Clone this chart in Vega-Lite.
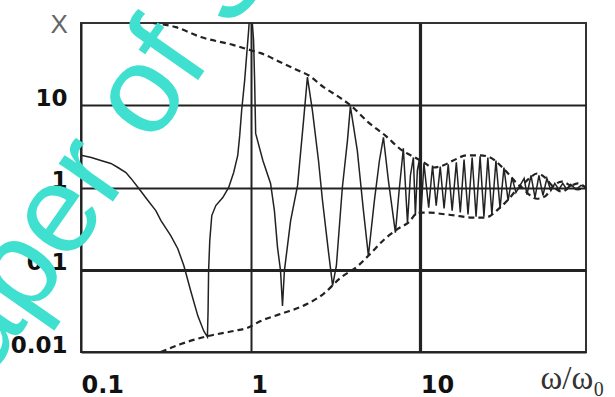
{
  "$schema": "https://vega.github.io/schema/vega-lite/v6.json",
  "autosize": "none",
  "width": 505,
  "height": 329,
  "padding": {"left": 81, "top": 23, "right": 29, "bottom": 45},
  "background": "white",
  "config": {
    "view": {"stroke": "#333", "strokeWidth": 2},
    "axis": {"domain": false, "ticks": false, "tickSize": 0}
  },
  "datasets": {
    "curves": [
      {"s": "r", "x": 0.1, "y": 2.46}, {"s": "r", "x": 0.115, "y": 2.32}, {"s": "r", "x": 0.131, "y": 2.13},
      {"s": "r", "x": 0.15, "y": 1.96}, {"s": "r", "x": 0.165, "y": 1.75}, {"s": "r", "x": 0.184, "y": 1.52},
      {"s": "r", "x": 0.197, "y": 1.29}, {"s": "r", "x": 0.217, "y": 1.0}, {"s": "r", "x": 0.248, "y": 0.694},
      {"s": "r", "x": 0.276, "y": 0.524}, {"s": "r", "x": 0.296, "y": 0.396}, {"s": "r", "x": 0.338, "y": 0.26},
      {"s": "r", "x": 0.372, "y": 0.18}, {"s": "r", "x": 0.404, "y": 0.112}, {"s": "r", "x": 0.443, "y": 0.0555},
      {"s": "r", "x": 0.488, "y": 0.0275}, {"s": "r", "x": 0.529, "y": 0.018}, {"s": "r", "x": 0.556, "y": 0.0152},
      {"s": "r", "x": 0.561, "y": 0.0317}, {"s": "r", "x": 0.565, "y": 0.097}, {"s": "r", "x": 0.574, "y": 0.226},
      {"s": "r", "x": 0.59, "y": 0.456}, {"s": "r", "x": 0.623, "y": 0.603}, {"s": "r", "x": 0.685, "y": 0.755},
      {"s": "r", "x": 0.742, "y": 1.0}, {"s": "r", "x": 0.794, "y": 1.52}, {"s": "r", "x": 0.839, "y": 2.46},
      {"s": "r", "x": 0.862, "y": 4.3}, {"s": "r", "x": 0.885, "y": 8.7}, {"s": "r", "x": 0.922, "y": 20.2},
      {"s": "r", "x": 0.947, "y": 40.7}, {"s": "r", "x": 0.973, "y": 82}, {"s": "r", "x": 0.987, "y": 125},
      {"s": "r", "x": 1.0, "y": 200}, {"s": "r", "x": 1.014, "y": 125}, {"s": "r", "x": 1.04, "y": 62},
      {"s": "r", "x": 1.055, "y": 20.2}, {"s": "r", "x": 1.07, "y": 4.55}, {"s": "r", "x": 1.18, "y": 2.13},
      {"s": "r", "x": 1.31, "y": 1.12}, {"s": "r", "x": 1.38, "y": 0.524}, {"s": "r", "x": 1.44, "y": 0.186},
      {"s": "r", "x": 1.5, "y": 0.097}, {"s": "r", "x": 1.54, "y": 0.0363}, {"s": "r", "x": 1.58, "y": 0.097},
      {"s": "r", "x": 1.72, "y": 0.396}, {"s": "r", "x": 1.89, "y": 1.06}, {"s": "r", "x": 2.05, "y": 6.56},
      {"s": "r", "x": 2.16, "y": 22}, {"s": "r", "x": 2.31, "y": 8.7}, {"s": "r", "x": 2.51, "y": 2.13},
      {"s": "r", "x": 2.65, "y": 0.694}, {"s": "r", "x": 2.87, "y": 0.17}, {"s": "r", "x": 3.04, "y": 0.064},
      {"s": "r", "x": 3.2, "y": 0.112}, {"s": "r", "x": 3.47, "y": 1.0}, {"s": "r", "x": 3.72, "y": 3.74},
      {"s": "r", "x": 3.87, "y": 9.7}, {"s": "r", "x": 4.25, "y": 2.83}, {"s": "r", "x": 4.62, "y": 0.524},
      {"s": "r", "x": 4.94, "y": 0.148}, {"s": "r", "x": 5.36, "y": 0.694}, {"s": "r", "x": 5.74, "y": 2.13},
      {"s": "r", "x": 6.06, "y": 4.07}, {"s": "r", "x": 6.48, "y": 1.22}, {"s": "r", "x": 7.13, "y": 0.283},
      {"s": "r", "x": 7.5, "y": 0.919}, {"s": "r", "x": 7.94, "y": 2.99}, {"s": "r", "x": 8.4, "y": 0.374},
      {"s": "r", "x": 8.74, "y": 1.4}, {"s": "r", "x": 9.1, "y": 2.32}, {"s": "r", "x": 9.35, "y": 0.456},
      {"s": "r", "x": 9.6, "y": 1.61}, {"s": "r", "x": 9.85, "y": 2.13}, {"s": "r", "x": 10.1, "y": 0.496},
      {"s": "r", "x": 10.5, "y": 1.96}, {"s": "r", "x": 11.2, "y": 0.57}, {"s": "r", "x": 11.8, "y": 1.85},
      {"s": "r", "x": 12.4, "y": 0.603}, {"s": "r", "x": 13.1, "y": 1.8}, {"s": "r", "x": 13.8, "y": 0.555},
      {"s": "r", "x": 14.6, "y": 1.91}, {"s": "r", "x": 15.4, "y": 0.524}, {"s": "r", "x": 16.3, "y": 2.02},
      {"s": "r", "x": 17.2, "y": 0.496}, {"s": "r", "x": 18.1, "y": 2.19}, {"s": "r", "x": 19.1, "y": 0.469},
      {"s": "r", "x": 20.2, "y": 2.32}, {"s": "r", "x": 21.3, "y": 0.443}, {"s": "r", "x": 22.5, "y": 2.39},
      {"s": "r", "x": 23.7, "y": 0.443}, {"s": "r", "x": 25.0, "y": 2.32}, {"s": "r", "x": 26.4, "y": 0.469},
      {"s": "r", "x": 27.9, "y": 2.13}, {"s": "r", "x": 29.5, "y": 0.555}, {"s": "r", "x": 31.1, "y": 1.75},
      {"s": "r", "x": 32.9, "y": 0.694}, {"s": "r", "x": 34.7, "y": 1.32}, {"s": "r", "x": 36.6, "y": 0.869},
      {"s": "r", "x": 38.7, "y": 1.06}, {"s": "r", "x": 40.9, "y": 1.29}, {"s": "r", "x": 42.5, "y": 0.82},
      {"s": "r", "x": 44.9, "y": 1.4}, {"s": "r", "x": 47.4, "y": 0.755}, {"s": "r", "x": 50.0, "y": 1.4},
      {"s": "r", "x": 52.8, "y": 0.8}, {"s": "r", "x": 55.7, "y": 1.29}, {"s": "r", "x": 58.8, "y": 0.919},
      {"s": "r", "x": 62.0, "y": 1.12}, {"s": "r", "x": 65.5, "y": 0.945}, {"s": "r", "x": 69.1, "y": 1.12},
      {"s": "r", "x": 73.0, "y": 0.945}, {"s": "r", "x": 77.0, "y": 1.09}, {"s": "r", "x": 82.6, "y": 0.945},
      {"s": "r", "x": 88.5, "y": 1.06}, {"s": "r", "x": 94.7, "y": 1.0},

      {"s": "u", "x": 0.265, "y": 100}, {"s": "u", "x": 0.362, "y": 89}, {"s": "u", "x": 0.508, "y": 67.5},
      {"s": "u", "x": 0.794, "y": 53.9}, {"s": "u", "x": 1.0, "y": 46.7}, {"s": "u", "x": 1.145, "y": 43},
      {"s": "u", "x": 1.5, "y": 33.4}, {"s": "u", "x": 1.89, "y": 26.7}, {"s": "u", "x": 2.19, "y": 23.2},
      {"s": "u", "x": 2.69, "y": 16.6}, {"s": "u", "x": 3.39, "y": 12.2}, {"s": "u", "x": 3.87, "y": 10},
      {"s": "u", "x": 4.94, "y": 6.2}, {"s": "u", "x": 6.2, "y": 4.3}, {"s": "u", "x": 7.8, "y": 2.83},
      {"s": "u", "x": 9.3, "y": 2.32}, {"s": "u", "x": 10.7, "y": 1.96}, {"s": "u", "x": 11.9, "y": 1.75},
      {"s": "u", "x": 13.6, "y": 1.85}, {"s": "u", "x": 15.6, "y": 2.13}, {"s": "u", "x": 18.9, "y": 2.46},
      {"s": "u", "x": 22.6, "y": 2.46}, {"s": "u", "x": 25.8, "y": 2.32}, {"s": "u", "x": 28.8, "y": 1.96},
      {"s": "u", "x": 32.9, "y": 1.48}, {"s": "u", "x": 37.1, "y": 1.12}, {"s": "u", "x": 39.7, "y": 1.0},
      {"s": "u", "x": 44.4, "y": 0.8}, {"s": "u", "x": 48.7, "y": 0.73}, {"s": "u", "x": 54.3, "y": 0.78},
      {"s": "u", "x": 60.4, "y": 1.03}, {"s": "u", "x": 68.3, "y": 1.18}, {"s": "u", "x": 76.3, "y": 1.06},
      {"s": "u", "x": 84.9, "y": 0.95}, {"s": "u", "x": 94.7, "y": 1.0},

      {"s": "l", "x": 0.295, "y": 0.01}, {"s": "l", "x": 0.388, "y": 0.0125}, {"s": "l", "x": 0.558, "y": 0.0156},
      {"s": "l", "x": 0.794, "y": 0.018}, {"s": "l", "x": 0.96, "y": 0.0197}, {"s": "l", "x": 1.145, "y": 0.0238},
      {"s": "l", "x": 1.5, "y": 0.029}, {"s": "l", "x": 2.16, "y": 0.0385}, {"s": "l", "x": 2.69, "y": 0.051},
      {"s": "l", "x": 3.39, "y": 0.08}, {"s": "l", "x": 4.3, "y": 0.112}, {"s": "l", "x": 4.94, "y": 0.148},
      {"s": "l", "x": 6.2, "y": 0.239}, {"s": "l", "x": 7.4, "y": 0.316}, {"s": "l", "x": 8.5, "y": 0.374},
      {"s": "l", "x": 9.7, "y": 0.496}, {"s": "l", "x": 11.4, "y": 0.496}, {"s": "l", "x": 13.1, "y": 0.48},
      {"s": "l", "x": 16.1, "y": 0.456}, {"s": "l", "x": 20.4, "y": 0.43}, {"s": "l", "x": 24.0, "y": 0.43},
      {"s": "l", "x": 29.5, "y": 0.57}, {"s": "l", "x": 33.8, "y": 0.755}, {"s": "l", "x": 37.1, "y": 0.95},
      {"s": "l", "x": 39.7, "y": 1.06}, {"s": "l", "x": 44.4, "y": 1.32}, {"s": "l", "x": 48.7, "y": 1.48},
      {"s": "l", "x": 54.3, "y": 1.32}, {"s": "l", "x": 60.4, "y": 1.03}, {"s": "l", "x": 68.3, "y": 0.89},
      {"s": "l", "x": 76.3, "y": 1.03}, {"s": "l", "x": 84.9, "y": 1.12}, {"s": "l", "x": 94.7, "y": 1.0}
    ],
    "mark": [
      {"x": 0.01487, "y": 0.000687, "label": "Paper of Science"}
    ]
  },
  "encoding": {
    "x": {
      "field": "x", "type": "quantitative",
      "scale": {"type": "log", "domain": [0.1, 94.7], "nice": false, "zero": false},
      "axis": {
        "values": [0.1, 1, 10],
        "format": "~g",
        "grid": true,
        "gridColor": "#222",
        "gridOpacity": 1,
        "gridWidth": {"condition": {"test": "datum.value == 10", "value": 3.2}, "value": 2},
        "labelAlign": "left",
        "labelBaseline": "alphabetic",
        "labelPadding": 40,
        "labelDx": -1,
        "labelFlush": false,
        "labelOverlap": false,
        "labelBound": false,
        "labelFont": "DejaVu Sans",
        "labelFontWeight": "bold",
        "labelFontSize": 24,
        "labelColor": "#111",
        "title": "ω/ω₀",
        "titleFont": "Liberation Serif",
        "titleFontWeight": "normal",
        "titleFontSize": 33,
        "titleColor": "#333",
        "titleAlign": "left",
        "titleBaseline": "alphabetic",
        "titleX": 459,
        "titleY": 36
      }
    },
    "y": {
      "field": "y", "type": "quantitative",
      "scale": {"type": "log", "domain": [0.01, 100], "nice": false, "zero": false},
      "axis": {
        "values": [0.01, 0.1, 1, 10],
        "format": "~g",
        "grid": true,
        "gridColor": "#222",
        "gridOpacity": 1,
        "gridWidth": {"condition": {"test": "datum.value == 0.1", "value": 3.2}, "value": 2},
        "labelAlign": "right",
        "labelBaseline": "alphabetic",
        "labelPadding": 14,
        "labelFlush": false,
        "labelOverlap": false,
        "labelBound": false,
        "labelFont": "DejaVu Sans",
        "labelFontWeight": "bold",
        "labelFontSize": 23,
        "labelColor": "#111",
        "title": "X",
        "titleFont": "Liberation Sans",
        "titleFontWeight": "normal",
        "titleFontSize": 26,
        "titleColor": "#666",
        "titleAngle": 0,
        "titleAlign": "left",
        "titleBaseline": "alphabetic",
        "titleX": -31,
        "titleY": 9
      }
    }
  },
  "layer": [
    {
      "data": {"name": "curves"},
      "transform": [{"filter": "datum.s == 'r'"}],
      "mark": {"type": "line", "color": "#222", "strokeWidth": 1.5, "clip": true, "interpolate": "linear"}
    },
    {
      "data": {"name": "curves"},
      "transform": [{"filter": "datum.s == 'u'"}],
      "mark": {"type": "line", "color": "#222", "strokeWidth": 2.2, "strokeDash": [6, 4], "clip": true, "interpolate": "monotone"}
    },
    {
      "data": {"name": "curves"},
      "transform": [{"filter": "datum.s == 'l'"}],
      "mark": {"type": "line", "color": "#222", "strokeWidth": 2.2, "strokeDash": [6, 4], "clip": true, "interpolate": "monotone"}
    },
    {
      "data": {"name": "mark"},
      "mark": {"type": "text", "color": "#40E0D0", "font": "Liberation Sans", "fontSize": 125, "angle": -55, "align": "left", "baseline": "alphabetic", "clip": false},
      "encoding": {"text": {"field": "label"}}
    }
  ]
}
